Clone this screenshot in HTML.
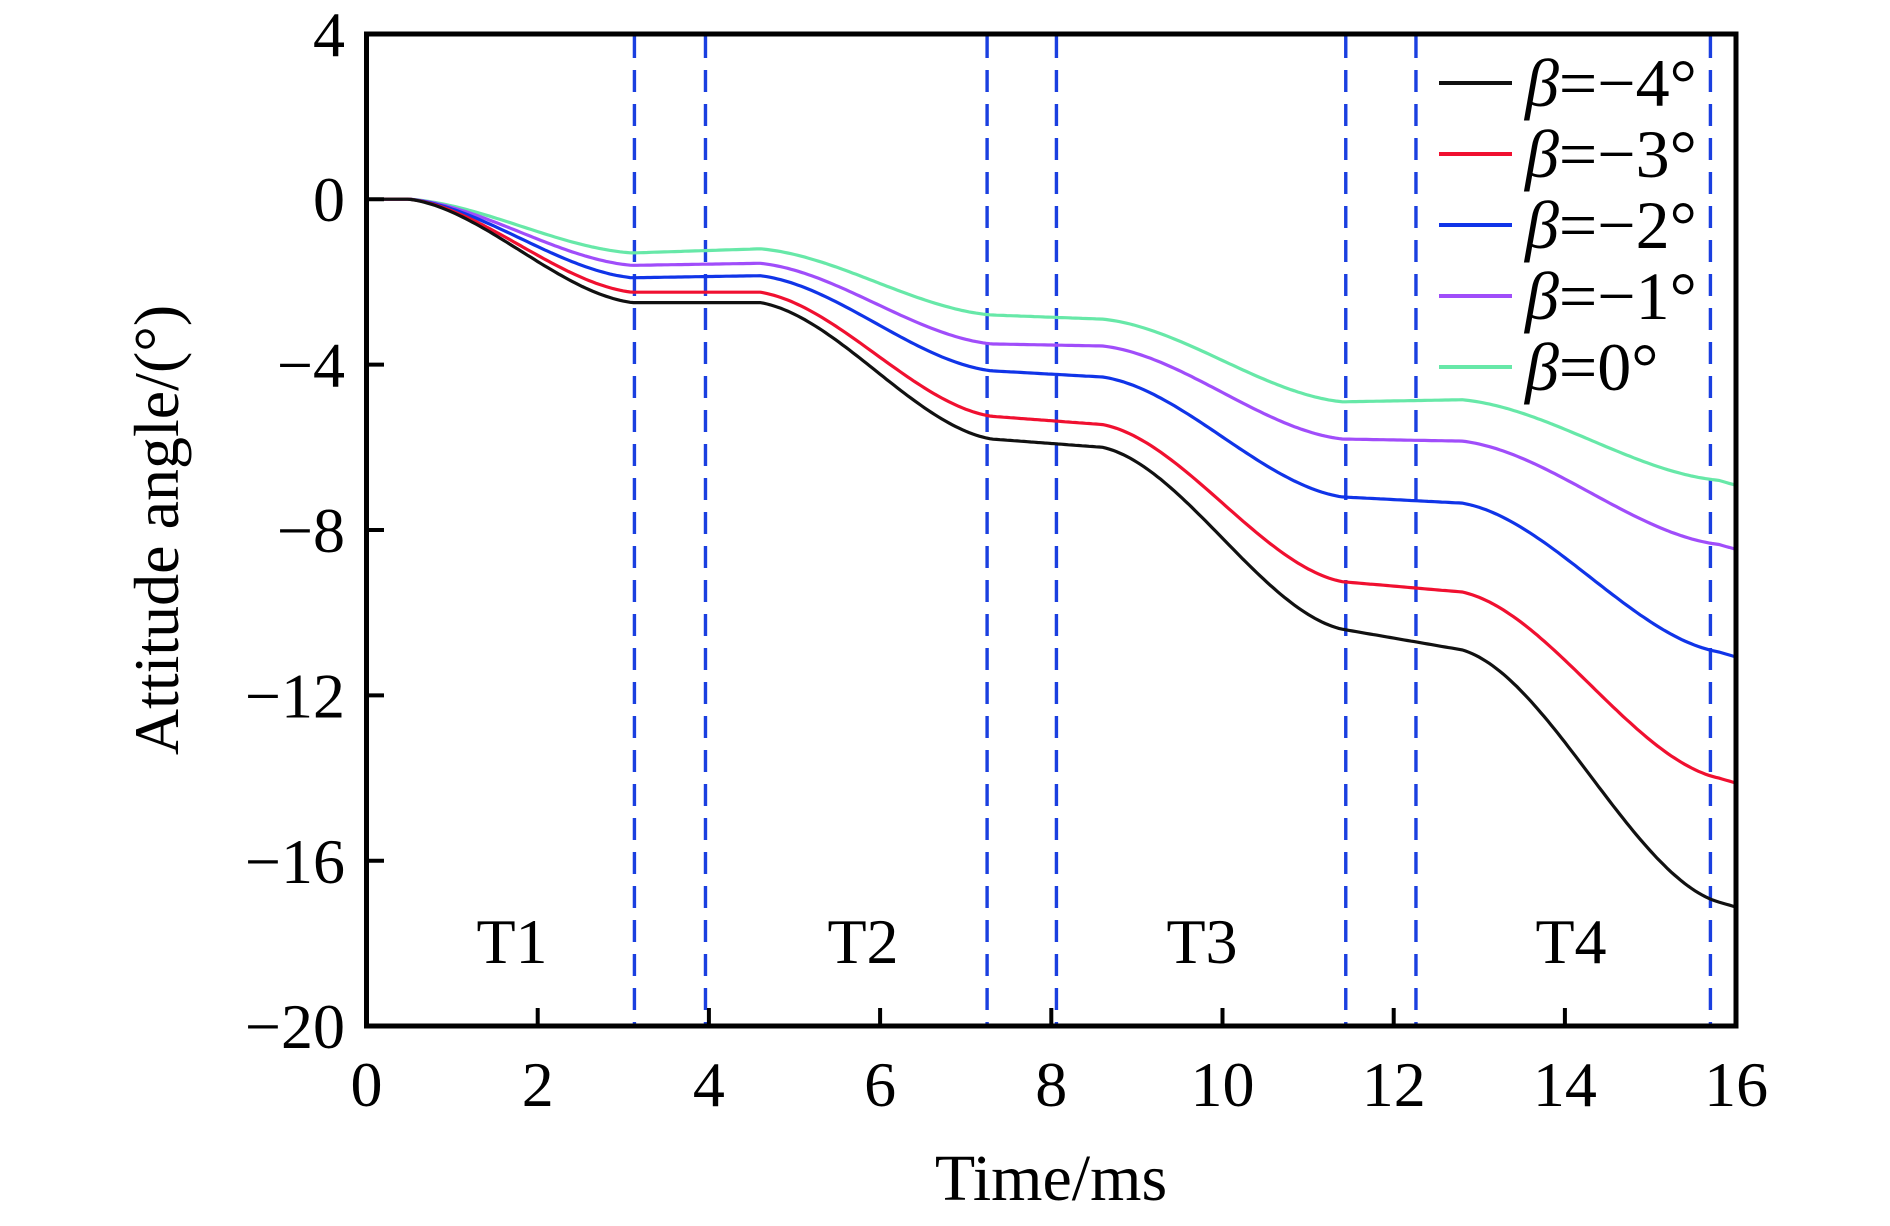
<!DOCTYPE html>
<html><head><meta charset="utf-8"><style>
body{margin:0;background:#fff}
svg text{font-family:"Liberation Serif",serif;fill:#000}
</style></head><body>
<svg id="s" width="1890" height="1221" viewBox="0 0 1890 1221" xmlns="http://www.w3.org/2000/svg">
<g id="dash"></g>
<g id="curves" fill="none" stroke-width="3.2"></g>
<rect x="366.5" y="34" width="1369.5" height="992" fill="none" stroke="#000" stroke-width="5"/>
<g id="ticks" stroke="#000" stroke-width="4"></g>
<g font-size="64" text-anchor="end" id="yl"></g>
<g font-size="64" text-anchor="middle" id="xl"></g>
<text x="1051" y="1200" font-size="66" text-anchor="middle">Time/ms</text>
<text transform="translate(178,530) rotate(-90)" font-size="64" text-anchor="middle">Attitude angle/(°)</text>
<g font-size="64" text-anchor="middle">
<text x="512" y="963">T1</text><text x="863" y="963">T2</text><text x="1202" y="963">T3</text><text x="1571" y="963">T4</text>
</g>
<g id="leg" font-size="68"></g>
</svg>
<script>
const X=t=>366.5+t*85.6, Y=v=>199.2-v*41.35;
const ns="http://www.w3.org/2000/svg";
function el(p,tag,attrs,txt){const e=document.createElementNS(ns,tag);for(const k in attrs)e.setAttribute(k,attrs[k]);if(txt!==undefined)e.innerHTML=txt;document.getElementById(p).appendChild(e);return e;}
[3.13,3.96,7.25,8.06,11.44,12.26,15.7].forEach(t=>el('dash','line',{x1:X(t),x2:X(t),y1:36,y2:1024,stroke:'#1a3fe0','stroke-width':3.4,'stroke-dasharray':'22 12'}));
for(let v=4;v>=-20;v-=4){el('ticks','line',{x1:366.5,x2:384,y1:Y(v),y2:Y(v)});el('yl','text',{x:345,y:Y(v)+22},(v<0?'−':'')+Math.abs(v));}
for(let t=0;t<=16;t+=2){el('ticks','line',{x1:X(t),x2:X(t),y1:1026,y2:1008});el('xl','text',{x:X(t),y:1106},t);}
const C=[
['#67e8a8',[-1.3,-1.2],[-2.8,-2.9],[-4.9,-4.85],-6.8],
['#a04dfa',[-1.6,-1.55],[-3.5,-3.55],[-5.8,-5.85],-8.35],
['#1034e8',[-1.9,-1.85],[-4.15,-4.3],[-7.2,-7.35],-10.95],
['#f01030',[-2.25,-2.25],[-5.25,-5.45],[-9.25,-9.5],-14.0],
['#111111',[-2.5,-2.5],[-5.8,-6.0],[-10.4,-10.9],-17.0]];
const seg=[[0.5,3.1],[4.6,7.3],[8.6,11.4],[12.8,15.8]];
function ss(u){return 0.3*u+0.7*u*u*(3-2*u);}
C.forEach(c=>{
 const lv=[[0,0],c[1],c[2],c[3],[c[4],c[4]-0.12]];
 const plat=[[0,0.5],[3.1,4.6],[7.3,8.6],[11.4,12.8],[15.8,16]];
 let d='';
 for(let t=0;t<=16.001;t+=0.04){
  let v;
  let k=plat.findIndex(p=>t>=p[0]&&t<=p[1]);
  if(k>=0){const p=plat[k];v=lv[k][0]+(lv[k][1]-lv[k][0])*((t-p[0])/(p[1]-p[0]));}
  else{k=seg.findIndex(s=>t>s[0]&&t<s[1]);const s=seg[k];const u=(t-s[0])/(s[1]-s[0]);v=lv[k][1]+(lv[k+1][0]-lv[k][1])*ss(u);}
  d+=(d?'L':'M')+X(t).toFixed(1)+','+Y(v).toFixed(1);
 }
 el('curves','path',{d:d,stroke:c[0]});
});
const L=[['#111111','−4'],['#f01030','−3'],['#1034e8','−2'],['#a04dfa','−1'],['#67e8a8','0']];
L.forEach((l,i)=>{const y=83+i*71;el('leg','line',{x1:1439,x2:1512,y1:y,y2:y,stroke:l[0],'stroke-width':4});
 el('leg','text',{x:1525,y:y+23},'<tspan font-style="italic">β</tspan>='+l[1]+'°');});
</script>
</body></html>
